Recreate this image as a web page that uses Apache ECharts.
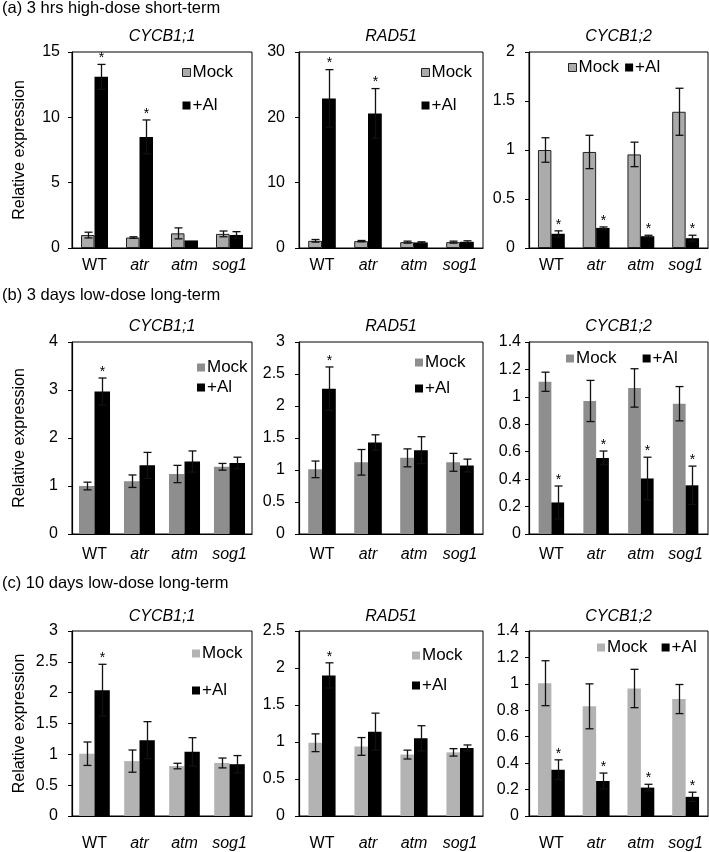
<!DOCTYPE html>
<html><head><meta charset="utf-8">
<script src="https://cdn.jsdelivr.net/npm/echarts@6/dist/echarts.min.js"></script>
<style>html,body{margin:0;padding:0;background:#fff}#c{width:709px;height:852px}</style>
</head><body><div id="c"></div>
<script>
// ---------- DATA ----------
const categories = ['WT', 'atr', 'atm', 'sog1'];
const seriesNames = ['Mock', '+Al'];
const rowTitles = ['(a) 3 hrs high-dose short-term', '(b) 3 days low-dose long-term', '(c) 10 days low-dose long-term'];
const geneTitles = ['CYCB1;1', 'RAD51', 'CYCB1;2'];
const yAxisTitle = 'Relative expression';

// (a) 3 hrs high-dose short-term
const aCycb11Mock = [0.99, 0.80, 1.12, 1.08];
const aCycb11MockErr = [0.22, 0.06, 0.42, 0.22];
const aCycb11Al = [13.1, 8.5, 0.58, 1.0];
const aCycb11AlErr = [0.95, 1.3, 0.0, 0.25];
const aCycb11Sig = [1, 1, 0, 0];

const aRad51Mock = [1.1, 1.05, 0.9, 0.9];
const aRad51MockErr = [0.2, 0.1, 0.15, 0.15];
const aRad51Al = [22.9, 20.6, 0.85, 0.95];
const aRad51AlErr = [4.4, 3.8, 0.1, 0.15];
const aRad51Sig = [1, 1, 0, 0];

const aCycb12Mock = [1.0, 0.98, 0.955, 1.39];
const aCycb12MockErr = [0.125, 0.17, 0.125, 0.24];
const aCycb12Al = [0.145, 0.205, 0.12, 0.10];
const aCycb12AlErr = [0.03, 0.01, 0.01, 0.03];
const aCycb12Sig = [1, 1, 1, 1];

// (b) 3 days low-dose long-term
const bCycb11Mock = [1.0, 1.10, 1.25, 1.40];
const bCycb11MockErr = [0.08, 0.13, 0.18, 0.07];
const bCycb11Al = [2.97, 1.43, 1.51, 1.48];
const bCycb11AlErr = [0.28, 0.27, 0.22, 0.12];
const bCycb11Sig = [1, 0, 0, 0];

const bRad51Mock = [1.01, 1.12, 1.19, 1.12];
const bRad51MockErr = [0.13, 0.2, 0.14, 0.14];
const bRad51Al = [2.27, 1.43, 1.31, 1.07];
const bRad51AlErr = [0.34, 0.12, 0.21, 0.1];
const bRad51Sig = [1, 0, 0, 0];

const bCycb12Mock = [1.11, 0.97, 1.065, 0.95];
const bCycb12MockErr = [0.07, 0.15, 0.14, 0.125];
const bCycb12Al = [0.23, 0.555, 0.405, 0.355];
const bCycb12AlErr = [0.12, 0.05, 0.155, 0.14];
const bCycb12Sig = [1, 1, 1, 1];

// (c) 10 days low-dose long-term
const cCycb11Mock = [1.01, 0.89, 0.81, 0.86];
const cCycb11MockErr = [0.19, 0.18, 0.045, 0.08];
const cCycb11Al = [2.04, 1.23, 1.04, 0.84];
const cCycb11AlErr = [0.42, 0.3, 0.23, 0.14];
const cCycb11Sig = [1, 0, 0, 0];

const cRad51Mock = [0.99, 0.94, 0.83, 0.86];
const cRad51MockErr = [0.12, 0.12, 0.06, 0.05];
const cRad51Al = [1.90, 1.14, 1.05, 0.92];
const cRad51AlErr = [0.17, 0.25, 0.17, 0.04];
const cRad51Sig = [1, 0, 0, 0];

const cCycb12Mock = [1.005, 0.83, 0.965, 0.885];
const cCycb12MockErr = [0.17, 0.17, 0.145, 0.11];
const cCycb12Al = [0.35, 0.265, 0.215, 0.145];
const cCycb12AlErr = [0.075, 0.06, 0.025, 0.035];
const cCycb12Sig = [1, 1, 1, 1];

// y-axis tick settings (max, interval) per row/column
const yMax = [[15, 30, 2], [4, 3, 1.4], [3, 2.5, 1.4]];
const yStep = [[5, 10, 0.5], [1, 0.5, 0.2], [0.5, 0.5, 0.2]];

// ---------- LAYOUT / STYLE ----------
const FONT = '"Liberation Sans", Arial, Helvetica, sans-serif';
const panels = [
  [[aCycb11Mock, aCycb11MockErr, aCycb11Al, aCycb11AlErr, aCycb11Sig],
   [aRad51Mock, aRad51MockErr, aRad51Al, aRad51AlErr, aRad51Sig],
   [aCycb12Mock, aCycb12MockErr, aCycb12Al, aCycb12AlErr, aCycb12Sig]],
  [[bCycb11Mock, bCycb11MockErr, bCycb11Al, bCycb11AlErr, bCycb11Sig],
   [bRad51Mock, bRad51MockErr, bRad51Al, bRad51AlErr, bRad51Sig],
   [bCycb12Mock, bCycb12MockErr, bCycb12Al, bCycb12AlErr, bCycb12Sig]],
  [[cCycb11Mock, cCycb11MockErr, cCycb11Al, cCycb11AlErr, cCycb11Sig],
   [cRad51Mock, cRad51MockErr, cRad51Al, cRad51AlErr, cRad51Sig],
   [cCycb12Mock, cCycb12MockErr, cCycb12Al, cCycb12AlErr, cCycb12Sig]]
];
const colLeft = [72, 299, 529];
const colWidth = [180, 184, 179];
const rowTop = [52, 342, 631];
const rowHeight = [196, 192, 191];
const rowTitleTop = [0, 287, 575];
const geneTitleCenter = [37.5, 328, 618];
const xLabelMargin = [10, 13, 20];
const mockColor = ['#ababab', '#8e8e8e', '#b3b3b3'];
const mockBorder = [1, 0, 0];
const catGap = [[0.40, 0.40, 0.40], [0.31, 0.40, 0.43], [0.32, 0.41, 0.40]];
const yLabelMargin = [[12, 14, 14], [14, 14, 8], [14, 14, 10]];
// legend: [left, top, itemGap, orient]
const legendPos = [
  [[182, 64, 16, 'vertical'], [421, 64, 16, 'vertical'], [568, 59, 6, 'horizontal']],
  [[197, 359, 3, 'vertical'], [415, 354, 9, 'vertical'], [566, 350, 26, 'horizontal']],
  [[192, 645, 20, 'vertical'], [412, 647, 13, 'vertical'], [597, 639, 14, 'horizontal']]
];

function errRender(side, gap) {
  return function (params, api) {
    const idx = api.value(0), lo = api.value(1), hi = api.value(2), sig = api.value(3);
    const band = api.size([1, 0])[0];
    const off = (side === 0 ? -1 : 1) * band * (1 - gap) / 4;
    const pHi = api.coord([idx, hi]);
    const pLo = api.coord([idx, lo]);
    const x = Math.round(pHi[0] + off) + 0.5;
    const cap = 4;
    const st = { stroke: '#111', lineWidth: 1.3 };
    const children = [];
    if (hi - lo > 0.0001) {
      children.push({ type: 'line', shape: { x1: x, y1: pHi[1], x2: x, y2: pLo[1] }, style: st });
      children.push({ type: 'line', shape: { x1: x - cap, y1: pHi[1], x2: x + cap, y2: pHi[1] }, style: st });
      children.push({ type: 'line', shape: { x1: x - cap, y1: pLo[1], x2: x + cap, y2: pLo[1] }, style: st });
    }
    if (sig) {
      children.push({ type: 'text', style: { text: '*', x: x, y: pHi[1] + 1, align: 'center', verticalAlign: 'bottom', fontSize: 14, fill: '#000', fontFamily: FONT } });
    }
    return { type: 'group', children: children };
  };
}

const grid = [], xAxis = [], yAxis = [], series = [], legend = [], title = [];
rowTitles.forEach((t, r) => {
  title.push({ text: t, left: 2, top: rowTitleTop[r], padding: 0, textStyle: { fontFamily: FONT, fontSize: 16.5, fontWeight: 'normal', color: '#000' } });
});
for (let r = 0; r < 3; r++) {
  for (let c = 0; c < 3; c++) {
    const i = r * 3 + c;
    const [m, me, a, ae, sig] = panels[r][c];
    const g = catGap[r][c];
    grid.push({ left: colLeft[c], top: rowTop[r], width: colWidth[c], height: rowHeight[r], show: true, borderColor: '#000', borderWidth: 1, backgroundColor: 'transparent' });
    title.push({ text: geneTitles[c], left: colLeft[c] + colWidth[c] / 2, top: geneTitleCenter[r] - 9, textAlign: 'center', padding: 0,
      textStyle: { fontFamily: FONT, fontSize: 16, fontStyle: 'italic', fontWeight: 'normal', color: '#000' } });
    xAxis.push({ type: 'category', gridIndex: i, data: categories,
      axisLine: { lineStyle: { color: '#000', width: 1.2 } }, axisTick: { show: false },
      axisLabel: { interval: 0, margin: xLabelMargin[r], color: '#000', fontFamily: FONT, fontSize: 16,
        formatter: v => v === 'WT' ? v : '{i|' + v + '}',
        rich: { i: { fontStyle: 'italic', fontFamily: FONT, fontSize: 16, color: '#000' } } } });
    const ya = { type: 'value', gridIndex: i, min: 0, max: yMax[r][c], interval: yStep[r][c],
      axisLine: { show: true, lineStyle: { color: '#000', width: 1.2 } },
      axisTick: { show: true, length: 4, lineStyle: { color: '#000' } },
      splitLine: { show: false },
      axisLabel: { margin: yLabelMargin[r][c], color: '#000', fontFamily: FONT, fontSize: 16 } };
    if (c === 0) {
      Object.assign(ya, { name: yAxisTitle, nameLocation: 'middle', nameGap: 44, nameRotate: 90,
        nameTextStyle: { fontFamily: FONT, fontSize: 16, color: '#000' } });
    }
    yAxis.push(ya);
    series.push({ type: 'bar', name: seriesNames[0], xAxisIndex: i, yAxisIndex: i, data: m,
      barGap: '0%', barCategoryGap: (g * 100) + '%',
      itemStyle: { color: mockColor[r], borderColor: '#222', borderWidth: mockBorder[r] } });
    series.push({ type: 'bar', name: seriesNames[1], xAxisIndex: i, yAxisIndex: i, data: a,
      barGap: '0%', barCategoryGap: (g * 100) + '%',
      itemStyle: { color: '#000' } });
    series.push({ type: 'custom', xAxisIndex: i, yAxisIndex: i, z: 5, renderItem: errRender(0, g),
      encode: { x: 0, y: [1, 2] },
      data: m.map((v, k) => [k, v - me[k], v + me[k], 0]) });
    series.push({ type: 'custom', xAxisIndex: i, yAxisIndex: i, z: 5, renderItem: errRender(1, g),
      encode: { x: 0, y: [1, 2] },
      data: a.map((v, k) => [k, v - ae[k], v + ae[k], sig[k]]) });
    const lp = legendPos[r][c];
    legend.push({ left: lp[0], top: lp[1], orient: lp[3], itemGap: lp[2], itemWidth: 8, itemHeight: 8,
      padding: 0, selectedMode: false, icon: 'rect',
      textStyle: { fontFamily: FONT, fontSize: 17, color: '#000', padding: [0, 0, 0, -3] },
      data: [
        { name: seriesNames[0], itemStyle: { color: mockColor[r], borderColor: '#222', borderWidth: mockBorder[r] } },
        { name: seriesNames[1], itemStyle: { color: '#000' } }
      ] });
  }
}

const chart = echarts.init(document.getElementById('c'), null, { renderer: 'canvas' });
chart.setOption({ animation: false, backgroundColor: '#fff', title, grid, xAxis, yAxis, series, legend });
</script>
</body></html>
